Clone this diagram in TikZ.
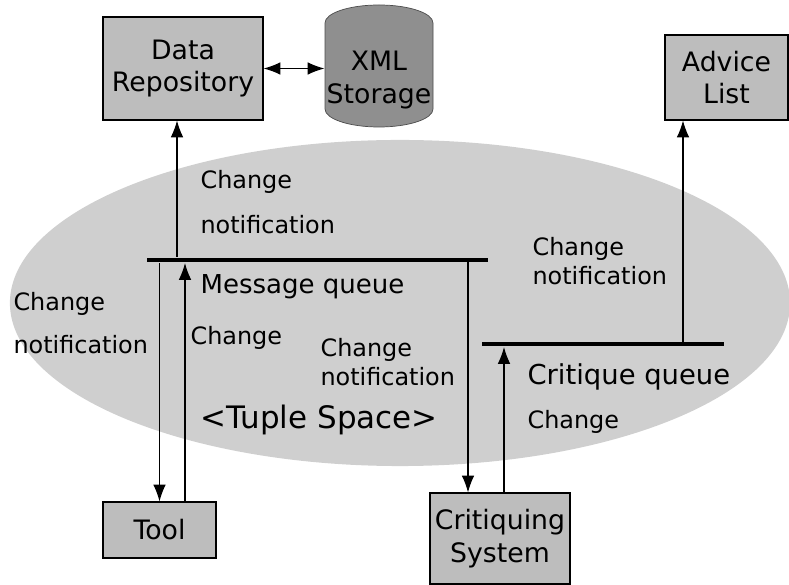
\documentclass[tikz,border=0pt]{standalone}
\usepackage{fontspec}
\setmainfont{DejaVu Sans}
\usetikzlibrary{arrows.meta, shapes.geometric}

\definecolor{boxgray}{gray}{0.74}
\definecolor{spacegray}{gray}{0.81}
\definecolor{xmlgray}{gray}{0.56}

\begin{document}
\begin{tikzpicture}[x = 0.025cm, y = 0.025cm, % one unit is one pixel of the sketch
                line width = 0.8pt % line style
            ]

            \tikzstyle{box}=[draw = black, fill = boxgray, align = center,
            inner sep = 0pt, font = \fontsize{19}{23}\selectfont]
            \tikzstyle{queue}=[fill = black, inner sep = 0pt, minimum height = 3.5pt]
            \tikzstyle{lbl}=[anchor = west, align = left, inner sep = 0pt,
            font = \fontsize{17}{20.5}\selectfont]
            \tikzstyle{fwd}=[draw, -{Latex[length=12pt, width=9pt]}]
            \tikzstyle{both}=[draw, {Latex[length=12pt, width=9pt]}-{Latex[length=12pt, width=9pt]}]

            \useasboundingbox (0,0) rectangle (789,585);

            % the tuple space
            \node (space) [ellipse, fill = spacegray, minimum width = 19.5cm,
            minimum height = 8.15cm] at (400,282) {};

            % the xml store, a cylinder
            \filldraw[fill = xmlgray, draw = black!70, line width = 0.5pt]
            (325,562) -- (325,476) arc[start angle = 180, end angle = 360,
            x radius = 1.35cm, y radius = 0.45cm] -- (433,562)
            arc[start angle = 0, end angle = 180, x radius = 1.35cm,
            y radius = 0.45cm] -- cycle;

            \node (repo) [box, minimum width = 4cm, minimum height = 2.575cm]
            at (183,516.5) {Data\\Repository};
            \node (xml) [align = center, inner sep = 0pt, minimum width = 2.7cm,
            font = \fontsize{19}{23}\selectfont] at (379,505) {XML\\Storage};
            \node (advice) [box, minimum width = 3.075cm, minimum height = 2.125cm]
            at (726.5,507.5) {Advice\\List};
            \node (tool) [box, minimum width = 2.825cm, minimum height = 1.4cm]
            at (159.5,55) {Tool};
            \node (critic) [box, minimum width = 3.5cm, minimum height = 2.275cm]
            at (500,46.5) {Critiquing\\System};

            \node (mq) [queue, minimum width = 8.525cm] at (317.5,325) {};
            \node (cq) [queue, minimum width = 6.05cm] at (603,241) {};

            \coordinate (repoin) at (177,464.5);
            \coordinate (toolout) at (185,83);
            \coordinate (criticout) at (504,92.5);
            \coordinate (adviceout) at (683,241);

            \path (repo.east) edge[both] (repo.east -| xml.west);
            \path (repoin |- mq.north) edge[fwd] (repoin);
            \path (tool.north |- mq.south) edge[fwd] (tool.north);
            \path (toolout) edge[fwd] (toolout |- mq.south);
            \path (468,325) edge[fwd] (critic.north -| 468,0);
            \path (criticout) edge[fwd] (criticout |- cq.south);
            \path (adviceout) edge[fwd] (advice.south -| adviceout);

            \node (l1) [lbl, font = \fontsize{17}{32}\selectfont] at (200,382.5)
            {Change\\notification};
            \node (l2) [lbl, font = \fontsize{17}{30.5}\selectfont] at (13,261.5)
            {Change\\notification};
            \node (mql) [lbl, font = \fontsize{18.5}{22}\selectfont] at (200,298)
            {Message queue};
            \node (l3) [lbl] at (190,247) {Change};
            \node (l4) [lbl] at (320,222.5) {Change\\notification};
            \node (tuple) [lbl, font = \fontsize{22}{26}\selectfont] at (200,165)
            {<Tuple Space>};
            \node (l5) [lbl] at (532,324) {Change\\notification};
            \node (cql) [lbl, font = \fontsize{19.5}{23}\selectfont] at (527,208)
            {Critique queue};
            \node (l6) [lbl] at (527,163) {Change};
        \end{tikzpicture}
\end{document}
